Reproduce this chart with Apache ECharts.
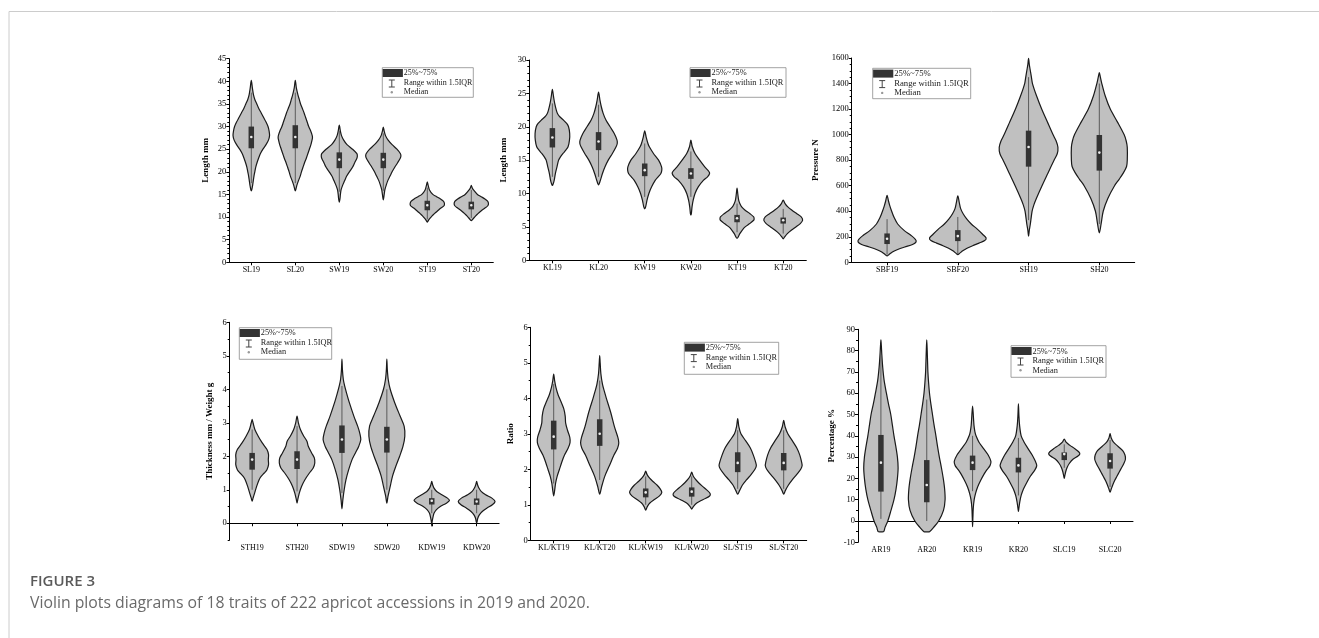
<!DOCTYPE html>
<html><head><meta charset="utf-8">
<script src="https://cdn.jsdelivr.net/npm/echarts@6/dist/echarts.min.js"></script>
<style>html,body{margin:0;padding:0;background:#fff}#c{width:1319px;height:638px}</style>
</head><body><div id="c"></div>
<script>
// ---------- DATA ----------
// violin profiles: [value, relative half-width (density, share of half band)]
// boxes: [whiskerLow, Q1, median, Q3, whiskerHigh]
const legendLabels = ['25%~75%', 'Range within 1.5IQR', 'Median'];

const cats1 = ['SL19','SL20','SW19','SW20','ST19','ST20'];
const violin1 = [
  [[40.2,0],[38.5,0.05],[37,0.1],[36,0.16],[35,0.25],[34,0.34],[33,0.45],[32,0.56],[31,0.67],[30,0.76],[29,0.81],[28,0.83],[27,0.78],[26,0.67],[25,0.53],[24,0.41],[23,0.33],[22,0.26],[21,0.2],[20,0.16],[19,0.12],[18,0.09],[17,0.06],[16,0.02],[15.8,0]],
  [[40.2,0],[38.5,0.05],[37,0.12],[36,0.18],[35,0.24],[34,0.32],[33,0.4],[32,0.47],[31,0.54],[30,0.61],[29,0.7],[28,0.77],[27.5,0.78],[27,0.76],[26,0.71],[25,0.64],[24,0.57],[23,0.5],[22,0.42],[21,0.35],[20,0.28],[19,0.22],[18,0.14],[17,0.07],[16,0.02],[15.8,0]],
  [[30.3,0],[29,0.05],[28,0.1],[27,0.2],[26,0.35],[25,0.6],[24,0.8],[23.5,0.82],[23,0.8],[22,0.7],[21,0.6],[20,0.46],[19,0.33],[18,0.24],[17,0.15],[16,0.08],[15,0.05],[14,0.03],[13.3,0]],
  [[29.9,0],[29,0.04],[28,0.1],[27,0.22],[26,0.4],[25,0.62],[24,0.78],[23.5,0.8],[23,0.77],[22,0.65],[21,0.52],[20,0.4],[19,0.3],[18,0.2],[17,0.13],[16,0.07],[15,0.04],[13.8,0]],
  [[17.8,0],[17,0.04],[16,0.1],[15,0.25],[14.5,0.42],[14,0.6],[13.5,0.73],[13,0.78],[12.5,0.76],[12,0.62],[11.5,0.5],[11,0.38],[10.5,0.27],[10,0.17],[9.5,0.08],[9,0.02],[8.9,0]],
  [[17.0,0],[16.5,0.04],[16,0.1],[15,0.28],[14.5,0.45],[14,0.62],[13.5,0.74],[13,0.78],[12.5,0.75],[12,0.62],[11.5,0.48],[11,0.36],[10.5,0.25],[10,0.15],[9.5,0.06],[9.2,0]]
];
const box1 = [[17.5,25.2,27.7,30,37.5],[17.5,25.2,27.7,30.3,37.5],[15.6,20.8,22.7,24.3,29],[15.8,20.8,22.7,24.2,28.5],[9.5,11.5,12.6,13.6,16.5],[9.8,11.7,12.6,13.4,16]];

const cats2 = ['KL19','KL20','KW19','KW20','KT19','KT20'];
const violin2 = [
  [[25.6,0],[24.5,0.05],[23.5,0.1],[22.5,0.17],[22,0.22],[21.5,0.32],[21,0.48],[20.5,0.62],[20,0.7],[19,0.75],[18,0.74],[17,0.68],[16.5,0.58],[16,0.46],[15.5,0.35],[15,0.27],[14,0.2],[13,0.13],[12,0.08],[11.5,0.04],[11.2,0]],
  [[25.2,0],[24,0.06],[23,0.12],[22,0.2],[21,0.32],[20,0.5],[19,0.68],[18,0.8],[17.5,0.81],[17,0.76],[16,0.6],[15,0.42],[14,0.28],[13,0.17],[12,0.08],[11.3,0]],
  [[19.4,0],[18.5,0.06],[17.5,0.14],[17,0.2],[16,0.38],[15,0.6],[14,0.73],[13.5,0.74],[13,0.7],[12.5,0.58],[12,0.46],[11,0.3],[10,0.18],[9,0.1],[8,0.04],[7.7,0]],
  [[18,0],[17,0.06],[16,0.18],[15,0.38],[14,0.6],[13.3,0.78],[13,0.81],[12.5,0.72],[12,0.55],[11,0.32],[10,0.18],[9,0.1],[8,0.05],[7,0.02],[6.8,0]],
  [[10.8,0],[10,0.03],[9,0.07],[8.5,0.12],[8,0.2],[7.5,0.35],[7,0.55],[6.5,0.72],[6.2,0.74],[6,0.72],[5.5,0.55],[5,0.35],[4.5,0.22],[4,0.12],[3.5,0.05],[3.3,0]],
  [[9,0],[8.5,0.08],[8,0.2],[7.5,0.38],[7,0.58],[6.5,0.78],[6,0.84],[5.5,0.74],[5,0.55],[4.5,0.35],[4,0.18],[3.5,0.06],[3.2,0]]
];
const box2 = [[12.5,16.9,18.4,19.8,23.5],[12.5,16.5,17.8,19.2,23.3],[9.5,12.6,13.5,14.5,17.5],[9.5,12.2,13,13.8,16.3],[4.2,5.7,6.3,6.8,8.5],[4,5.5,6,6.4,7.7]];

const cats3 = ['SBF19','SBF20','SH19','SH20'];
const violin3 = [
  [[525,0],[480,0.04],[440,0.08],[400,0.13],[350,0.2],[300,0.3],[250,0.48],[210,0.68],[180,0.8],[160,0.82],[140,0.72],[120,0.5],[100,0.3],[80,0.15],[60,0.05],[50,0]],
  [[520,0],[470,0.04],[420,0.08],[380,0.15],[340,0.25],[300,0.38],[260,0.55],[220,0.7],[190,0.8],[170,0.76],[150,0.6],[130,0.42],[110,0.26],[90,0.14],[70,0.05],[60,0]],
  [[1598,0],[1550,0.02],[1500,0.05],[1450,0.08],[1400,0.11],[1300,0.23],[1200,0.37],[1100,0.53],[1000,0.69],[950,0.78],[900,0.83],[850,0.81],[800,0.72],[700,0.55],[600,0.38],[500,0.22],[450,0.15],[400,0.1],[300,0.05],[250,0.02],[205,0]],
  [[1485,0],[1450,0.03],[1400,0.07],[1300,0.17],[1200,0.31],[1100,0.51],[1000,0.7],[950,0.76],[900,0.79],[800,0.79],[750,0.77],[700,0.68],[650,0.56],[600,0.43],[500,0.24],[400,0.11],[300,0.05],[230,0]]
];
const box3 = [[60,143,184,226,338],[65,166,205,252,355],[330,749,903,1031,1450],[300,718,859,997,1400]];

const cats4 = ['STH19','STH20','SDW19','SDW20','KDW19','KDW20'];
const violin4 = [
  [[3.1,0],[3.0,0.04],[2.8,0.12],[2.6,0.27],[2.4,0.45],[2.2,0.66],[2.05,0.73],[1.9,0.72],[1.75,0.73],[1.6,0.66],[1.5,0.54],[1.4,0.4],[1.3,0.31],[1.1,0.2],[0.9,0.11],[0.75,0.04],[0.66,0]],
  [[3.2,0],[3.0,0.06],[2.8,0.15],[2.6,0.3],[2.45,0.44],[2.3,0.5],[2.1,0.65],[1.95,0.77],[1.8,0.79],[1.65,0.72],[1.5,0.55],[1.3,0.35],[1.1,0.2],[0.9,0.1],[0.7,0.03],[0.6,0]],
  [[4.9,0],[4.6,0.02],[4.3,0.06],[4.1,0.12],[3.9,0.2],[3.6,0.33],[3.2,0.53],[2.9,0.7],[2.7,0.79],[2.5,0.84],[2.3,0.75],[2.1,0.6],[1.9,0.45],[1.6,0.3],[1.3,0.18],[1.0,0.1],[0.7,0.04],[0.43,0]],
  [[4.9,0],[4.6,0.02],[4.3,0.06],[4.0,0.15],[3.6,0.35],[3.2,0.59],[2.9,0.77],[2.6,0.8],[2.3,0.72],[2.0,0.57],[1.7,0.4],[1.4,0.25],[1.1,0.15],[0.8,0.05],[0.6,0]],
  [[1.25,0],[1.15,0.04],[1.05,0.1],[0.95,0.22],[0.85,0.45],[0.75,0.7],[0.68,0.79],[0.6,0.65],[0.5,0.38],[0.4,0.2],[0.3,0.1],[0.2,0.06],[0.1,0.03],[0,0.01],[-0.08,0]],
  [[1.25,0],[1.15,0.04],[1.05,0.1],[0.95,0.2],[0.85,0.4],[0.75,0.68],[0.65,0.82],[0.55,0.7],[0.45,0.45],[0.35,0.25],[0.25,0.12],[0.15,0.05],[0.05,0.02],[0,0]]
];
const box4 = [[1.0,1.6,1.9,2.1,2.8],[0.95,1.62,1.9,2.15,2.9],[0.9,2.1,2.5,2.92,4.1],[1.0,2.11,2.5,2.88,4.0],[0.3,0.56,0.67,0.75,1.0],[0.3,0.55,0.65,0.74,1.0]];
const ticks4 = [0,1,2,3,4,5,6];

const cats5 = ['KL/KT19','KL/KT20','KL/KW19','KL/KW20','SL/ST19','SL/ST20'];
const violin5 = [
  [[4.68,0],[4.5,0.04],[4.3,0.1],[4.1,0.19],[3.9,0.32],[3.7,0.44],[3.5,0.5],[3.3,0.52],[3.1,0.6],[2.9,0.7],[2.75,0.71],[2.6,0.63],[2.4,0.47],[2.2,0.35],[2.0,0.25],[1.8,0.15],[1.6,0.08],[1.4,0.04],[1.25,0]],
  [[5.2,0],[5.0,0.02],[4.7,0.05],[4.4,0.12],[4.2,0.2],[4.0,0.29],[3.6,0.48],[3.2,0.64],[2.9,0.79],[2.75,0.83],[2.6,0.78],[2.4,0.62],[2.1,0.42],[1.8,0.22],[1.5,0.08],[1.3,0]],
  [[1.95,0],[1.85,0.06],[1.75,0.17],[1.65,0.33],[1.55,0.5],[1.45,0.63],[1.35,0.7],[1.25,0.6],[1.15,0.38],[1.05,0.18],[0.95,0.07],[0.85,0]],
  [[1.92,0],[1.82,0.06],[1.72,0.16],[1.62,0.3],[1.52,0.47],[1.42,0.65],[1.32,0.8],[1.25,0.78],[1.15,0.5],[1.05,0.22],[0.95,0.07],[0.88,0]],
  [[3.43,0],[3.2,0.05],[3.0,0.14],[2.8,0.35],[2.6,0.55],[2.4,0.68],[2.2,0.78],[2.1,0.81],[2.0,0.75],[1.85,0.58],[1.7,0.38],[1.55,0.2],[1.4,0.08],[1.3,0]],
  [[3.38,0],[3.2,0.06],[3.0,0.18],[2.8,0.38],[2.6,0.57],[2.4,0.7],[2.2,0.78],[2.1,0.8],[2.0,0.74],[1.85,0.56],[1.7,0.37],[1.55,0.2],[1.4,0.07],[1.3,0]]
];
const box5 = [[1.6,2.56,2.92,3.37,4.4],[1.7,2.66,3.0,3.41,4.5],[1.0,1.21,1.35,1.46,1.8],[1.0,1.23,1.37,1.49,1.8],[1.45,1.92,2.18,2.48,3.1],[1.45,1.97,2.18,2.46,3.1]];

const cats6 = ['AR19','AR20','KR19','KR20','SLC19','SLC20'];
const violin6 = [
  [[85,0],[82,0.02],[78,0.04],[72,0.08],[66,0.14],[60,0.24],[55,0.33],[50,0.43],[45,0.5],[40,0.57],[35,0.65],[30,0.72],[25,0.75],[20,0.72],[15,0.66],[10,0.57],[5,0.44],[0,0.3],[-3,0.18],[-5,0.12],[-5.1,0]],
  [[85,0],[80,0.02],[75,0.035],[70,0.05],[65,0.08],[60,0.12],[55,0.18],[50,0.25],[45,0.32],[40,0.4],[35,0.47],[30,0.55],[25,0.64],[20,0.72],[15,0.78],[10,0.8],[5,0.73],[0,0.52],[-3,0.3],[-5,0.12],[-5.1,0]],
  [[54,0],[50,0.03],[45,0.06],[42,0.1],[40,0.15],[37,0.28],[34,0.48],[31,0.68],[28,0.8],[26,0.76],[24,0.62],[22,0.5],[19,0.35],[16,0.22],[13,0.13],[10,0.07],[6,0.03],[2,0.015],[-2.7,0]],
  [[55,0],[50,0.02],[45,0.05],[40,0.12],[37,0.25],[34,0.42],[31,0.6],[28,0.74],[26,0.8],[24,0.72],[21,0.52],[18,0.36],[15,0.22],[12,0.12],[9,0.06],[6,0.02],[4.5,0]],
  [[38.5,0],[37,0.08],[35.5,0.25],[34,0.45],[32.5,0.63],[31.5,0.68],[30.5,0.6],[29,0.38],[27,0.22],[25,0.12],[23,0.06],[21,0.02],[20,0]],
  [[41,0],[39,0.05],[37,0.15],[35,0.35],[33,0.55],[31,0.65],[29,0.67],[27,0.6],[25,0.5],[23,0.4],[21,0.3],[19,0.2],[17,0.12],[15,0.05],[13.5,0]]
];
const box6 = [[1,13.8,27.4,40.4,78],[0,8.8,16.9,28.6,57],[14,23.9,27.4,30.7,40],[12,22.8,26.1,29.7,39],[25,28.6,31.4,32.2,36],[16,24.6,28.2,31.8,38]];

const captionHead = 'FIGURE 3';
const captionText = 'Violin plots diagrams of 18 traits of 222 apricot accessions in 2019 and 2020.';

// ---------- LAYOUT ----------
const panels = [
  {cats:cats1, violin:violin1, box:box1, name:'Length mm', min:0, max:45, interval:5, minor:5, yfs:8.5,
   grid:{left:229.3, top:58.7, width:264, height:203.6}, nameGap:19, leg:{x:382.3,y:67.7,w:91,h:29.6,fs:8}},
  {cats:cats2, violin:violin2, box:box2, name:'Length mm', min:0, max:30, interval:5, minor:5, yfs:8.5,
   grid:{left:529.3, top:60, width:277, height:200.3}, nameGap:21, leg:{x:690,y:67.7,w:96,h:29.6,fs:8.4}},
  {cats:cats3, violin:violin3, box:box3, name:'Pressure N', min:0, max:1600, interval:200, minor:4, yfs:8.5,
   grid:{left:851.7, top:58, width:283, height:204.3}, nameGap:31.5, leg:{x:872.7,y:68.3,w:98,h:30.4,fs:8.7}},
  {cats:cats4, violin:violin4, box:box4, name:'Thickness mm / Weight g', min:-0.5, max:6, interval:0.5, minor:0, custom:ticks4, yfs:8.5,
   grid:{left:229.7, top:322.3, width:269.4, height:217.7}, nameGap:15.5, leg:{x:239.3,y:327.7,w:92.4,h:31.6,fs:8.3}},
  {cats:cats5, violin:violin5, box:box5, name:'Ratio', min:0, max:6, interval:1, minor:2, yfs:8.5,
   grid:{left:530.7, top:327.3, width:276, height:213}, nameGap:16, leg:{x:684.3,y:342.3,w:94.4,h:32,fs:8.3}},
  {cats:cats6, violin:violin6, box:box6, name:'Percentage %', min:-10, max:90, interval:10, minor:2, yfs:8.5,
   grid:{left:858, top:329.3, width:275, height:213}, nameGap:22, leg:{x:1011,y:345.7,w:95,h:31.6,fs:8.35}}
];

const SERIF = '"Liberation Serif","Times New Roman",serif';
const grids = [], xAxes = [], yAxes = [], series = [], graphics = [];
const plainNum = function (v) { return String(v); };

function violinRender(profiles) {
  return function (params, api) {
    const i = api.value(0);
    const prof = profiles[i];
    const half = api.size([1, 0])[0] / 2;
    const right = [], left = [];
    prof.forEach(function (pt) {
      const p = api.coord([i, pt[0]]);
      right.push([p[0] + pt[1] * half, p[1]]);
      if (pt[1] > 0) left.push([p[0] - pt[1] * half, p[1]]);
    });
    const pts = right.concat(left.reverse());
    return {type: 'polygon', shape: {points: pts, smooth: 0.3},
      style: {fill: '#c0c0c0', stroke: '#1a1a1a', lineWidth: 1.2}};
  };
}
function boxRender(params, api) {
  const i = api.value(0);
  const lo = api.coord([i, api.value(1)]), q1 = api.coord([i, api.value(2)]),
        md = api.coord([i, api.value(3)]), q3 = api.coord([i, api.value(4)]),
        hi = api.coord([i, api.value(5)]);
  const bw = 5.5;
  return {type: 'group', children: [
    {type: 'line', shape: {x1: lo[0], y1: lo[1], x2: hi[0], y2: hi[1]}, style: {stroke: '#5a5a5a', lineWidth: 1}},
    {type: 'rect', shape: {x: q1[0] - bw / 2, y: q3[1], width: bw, height: q1[1] - q3[1]}, style: {fill: '#333'}},
    {type: 'circle', shape: {cx: md[0], cy: md[1], r: 1.3}, style: {fill: '#eeeeee'}}
  ]};
}

panels.forEach(function (P, k) {
  grids.push(Object.assign({outerBoundsMode: 'none', containLabel: false}, P.grid));
  xAxes.push({type: 'category', gridIndex: k, data: P.cats, boundaryGap: true,
    axisLine: {show: true, lineStyle: {color: '#000', width: 1}},
    axisTick: {show: true, alignWithLabel: true, length: 3, lineStyle: {color: '#000'}},
    axisLabel: {color: '#000', fontFamily: SERIF, fontSize: 8, margin: 4, interval: 0},
    splitLine: {show: false}});
  const yBase = {type: 'value', gridIndex: k, position: 'left', min: P.min, max: P.max, interval: P.interval,
    axisLine: {show: true, lineStyle: {color: '#000', width: 1}},
    axisTick: {show: true, length: 3, lineStyle: {color: '#000'}},
    axisLabel: {color: '#000', fontFamily: SERIF, fontSize: P.yfs, margin: 3, formatter: plainNum},
    splitLine: {show: false}, minorSplitLine: {show: false},
    name: P.name, nameLocation: 'middle', nameGap: P.nameGap,
    nameTextStyle: {fontFamily: SERIF, fontWeight: 'bold', fontSize: 9, color: '#000'}};
  let yIdx = yAxes.length;
  if (P.custom) {
    yAxes.push(Object.assign({}, yBase, {name: '', axisTick: {show: true, length: 2, lineStyle: {color: '#000'}},
      axisLabel: {show: false}}));
    yAxes.push(Object.assign({}, yBase, {interval: 1, axisLine: {show: false},
      axisTick: {show: true, length: 3, lineStyle: {color: '#000'}, customValues: P.custom},
      axisLabel: {color: '#000', fontFamily: SERIF, fontSize: P.yfs, margin: 3, customValues: P.custom, formatter: plainNum}}));
    yIdx = yAxes.length - 1;
  } else {
    yBase.minorTick = {show: true, splitNumber: P.minor, length: 2, lineStyle: {color: '#000'}};
    yAxes.push(yBase);
  }
  series.push({type: 'custom', xAxisIndex: k, yAxisIndex: yIdx, renderItem: violinRender(P.violin),
    data: P.violin.map(function (p, i) { return [i, p[0][0]]; }), encode: {x: 0, y: 1}, clip: false, silent: true, z: 2});
  series.push({type: 'custom', xAxisIndex: k, yAxisIndex: yIdx, renderItem: boxRender,
    data: P.box.map(function (b, i) { return [i].concat(b); }), encode: {x: 0, y: [1, 2, 3, 4, 5]}, clip: false, silent: true, z: 3});

  const L = P.leg, f = L.fs + 'px ' + SERIF;
  graphics.push({type: 'group', x: L.x, y: L.y, z: 10, children: [
    {type: 'rect', shape: {x: 0, y: 0, width: L.w, height: L.h}, style: {fill: '#fff', stroke: '#8a8a8a', lineWidth: 0.8}},
    {type: 'rect', shape: {x: 0.4, y: 1.3, width: 20.2, height: 8}, style: {fill: '#333'}},
    {type: 'text', x: 21.5, y: 5.6, style: {text: legendLabels[0], font: f, fill: '#222', verticalAlign: 'middle'}},
    {type: 'line', shape: {x1: 9.5, y1: 12.3, x2: 9.5, y2: 19.3}, style: {stroke: '#444', lineWidth: 1}},
    {type: 'line', shape: {x1: 6.5, y1: 12.3, x2: 12.5, y2: 12.3}, style: {stroke: '#444', lineWidth: 1}},
    {type: 'line', shape: {x1: 6.5, y1: 19.3, x2: 12.5, y2: 19.3}, style: {stroke: '#444', lineWidth: 1}},
    {type: 'text', x: 21.5, y: 15.4, style: {text: legendLabels[1], font: f, fill: '#222', verticalAlign: 'middle'}},
    {type: 'circle', shape: {cx: 9.5, cy: 24.6, r: 1.2}, style: {fill: '#999'}},
    {type: 'text', x: 21.5, y: 24.6, style: {text: legendLabels[2], font: f, fill: '#222', verticalAlign: 'middle'}}
  ]});
});

// page frame and caption
graphics.push({type: 'line', shape: {x1: 9, y1: 11.5, x2: 1319, y2: 11.5}, style: {stroke: '#cccccc', lineWidth: 1}});
graphics.push({type: 'line', shape: {x1: 9, y1: 11.5, x2: 9, y2: 638}, style: {stroke: '#cccccc', lineWidth: 1}});
graphics.push({type: 'text', x: 30, y: 581.5, style: {text: captionHead, font: '600 15px "Open Sans", sans-serif', fill: '#5a5a5a', verticalAlign: 'middle'}});
graphics.push({type: 'text', x: 30, y: 603, style: {text: captionText, font: '15.8px "Open Sans", sans-serif', fill: '#6a6a6a', verticalAlign: 'middle'}});

const chart = echarts.init(document.getElementById('c'), null, {renderer: 'canvas'});
chart.setOption({
  animation: false,
  backgroundColor: '#fff',
  grid: grids, xAxis: xAxes, yAxis: yAxes, series: series, graphic: graphics
});
</script></body></html>
